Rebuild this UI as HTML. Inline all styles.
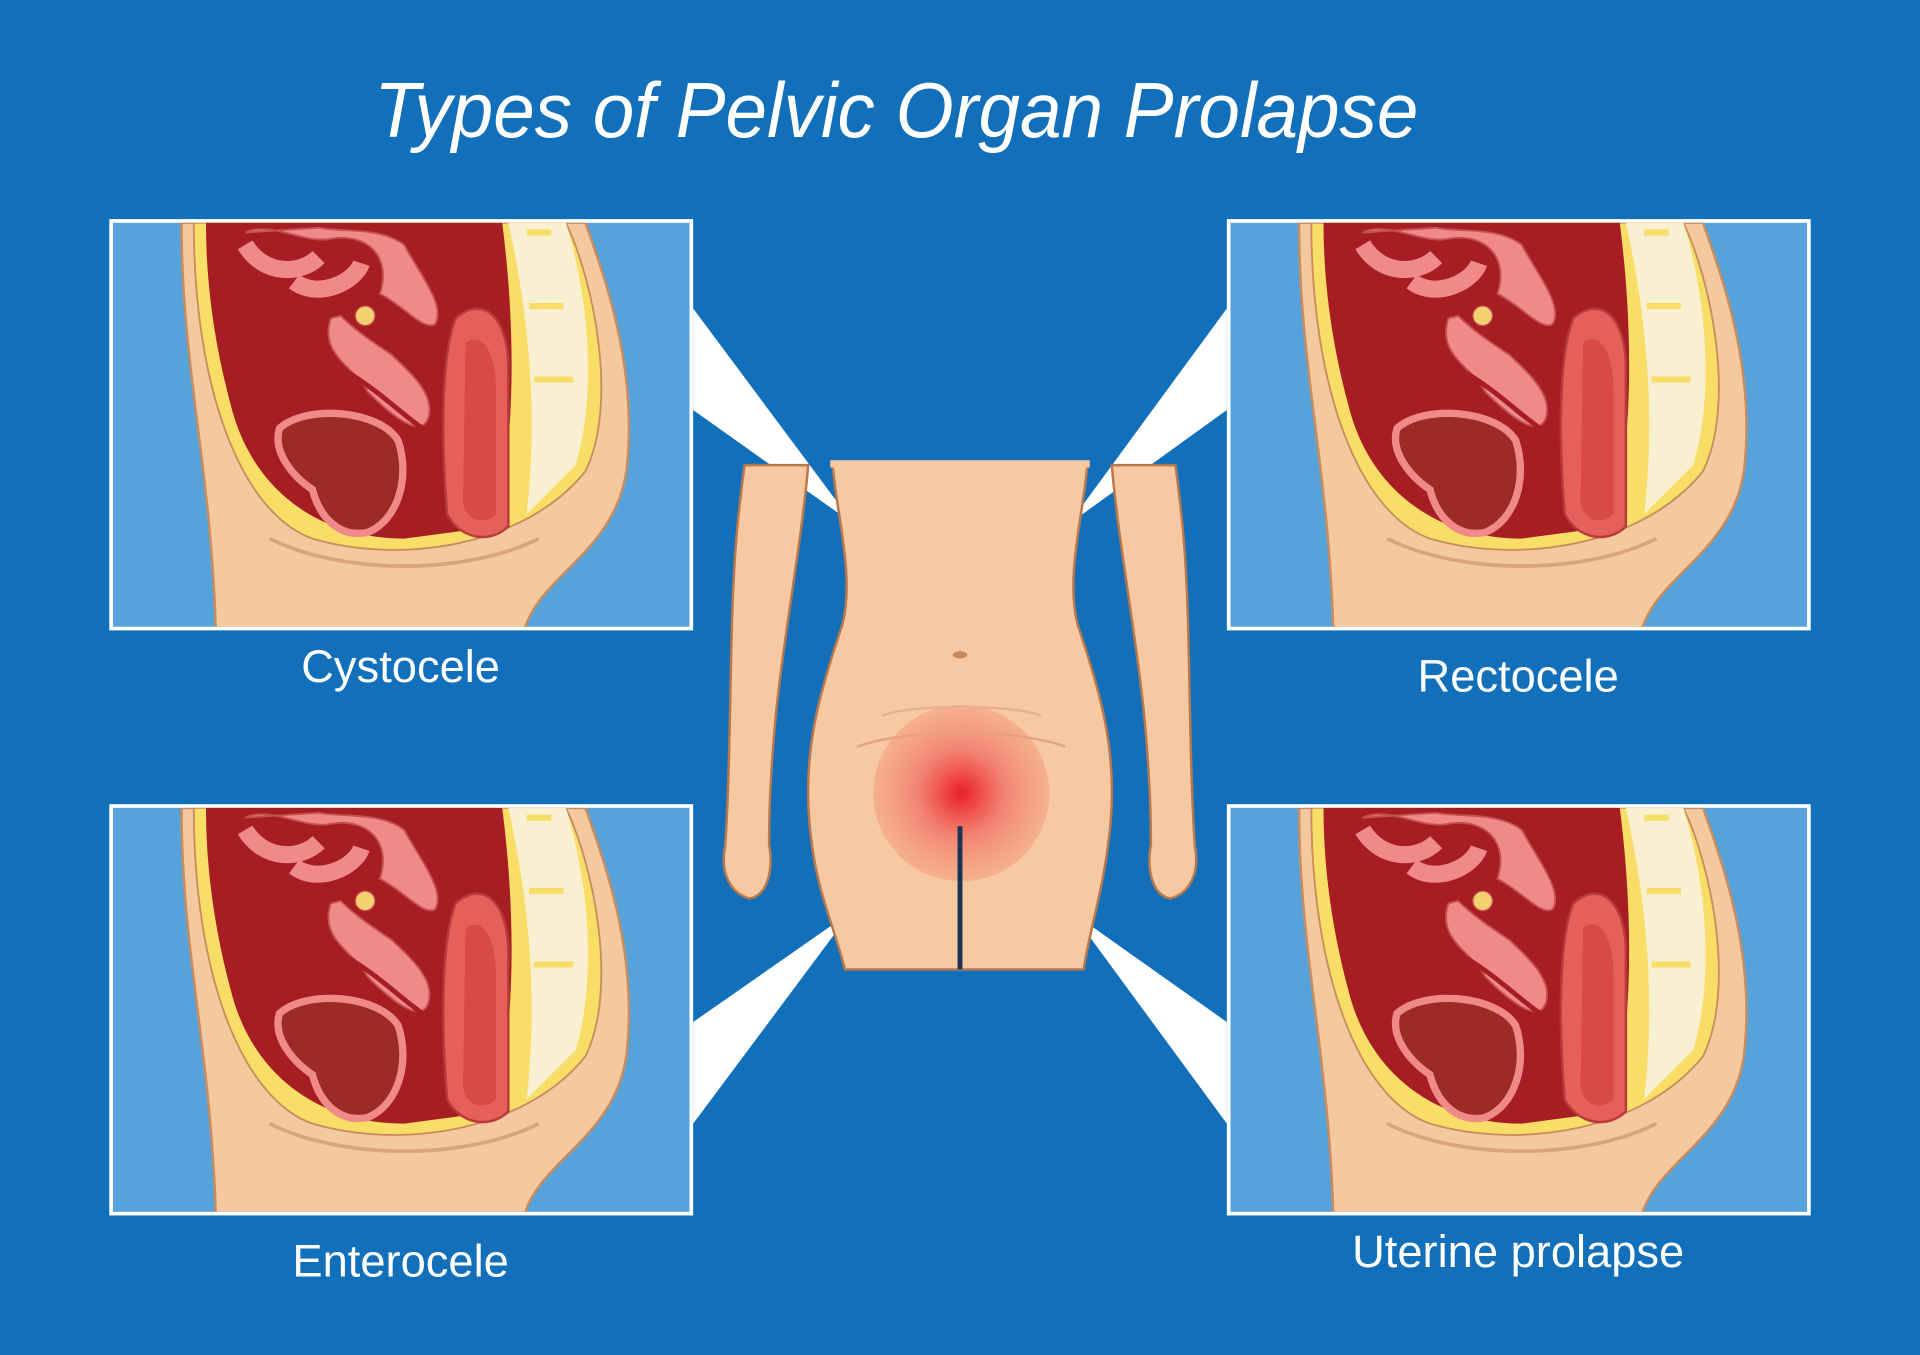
<!DOCTYPE html>
<html><head><meta charset="utf-8"><style>
html,body{margin:0;padding:0;background:#1170b9;}
svg{display:block}
</style></head><body>
<svg width="1920" height="1355" viewBox="0 0 1568 1107" xmlns="http://www.w3.org/2000/svg">
<defs>
<radialGradient id="glow" cx="0.5" cy="0.5" r="0.5">
<stop offset="0" stop-color="#e8202a"/>
<stop offset="0.2" stop-color="#ee4a45"/>
<stop offset="0.5" stop-color="#f27c6e" stop-opacity="0.9"/>
<stop offset="1" stop-color="#f5a080" stop-opacity="0.6"/>
</radialGradient>
<clipPath id="pc"><rect x="92" y="182" width="471" height="330"/></clipPath>
<g id="panel">
<rect x="89" y="179" width="477" height="336" fill="#ffffff"/>
<rect x="92" y="182" width="471" height="330" fill="#55a3da"/>
<g clip-path="url(#pc)">
<path d="M148,182 C148,300 172,380 176,515 L428,515 C440,470 505,450 512,380 C520,300 495,230 478,182 Z" fill="#f5c9a0" stroke="#c98c5e" stroke-width="2"/>
<path d="M158,182 C158,320 198,420 255,440 C330,462 430,445 478,385 C505,330 485,230 462,182 Z" fill="#f8dd66" stroke="#c98c5e" stroke-width="1.5"/>
<path d="M415,182 L462,182 C480,240 488,320 470,380 L430,420 C440,330 430,250 415,182 Z" fill="#f8f0d0"/>
<path d="M430,190 L450,190 M432,250 L460,250 M436,310 L468,310" stroke="#f8dd66" stroke-width="5"/>
<path d="M168,182 L410,182 C420,260 422,350 405,430 L330,440 C260,440 205,400 188,330 C172,270 168,220 168,182 Z" fill="#a61d23"/>
<path d="M372,260 C395,240 415,260 415,300 L415,430 C400,445 375,440 365,420 C360,360 360,290 372,260 Z" fill="#e5605a" stroke="#b83a3a" stroke-width="2"/>
<path d="M380,280 C395,270 405,290 405,320 L405,420 C395,430 380,425 378,410 Z" fill="#d74a45"/>
<path d="M228,350 C250,330 310,335 325,360 C335,390 325,425 300,435 C275,440 260,420 255,400 C240,390 222,370 228,350 Z" fill="#9c2a26" stroke="#f08a88" stroke-width="6"/>
<path d="M270,260 C260,290 290,300 300,320 C320,340 345,360 350,340 C355,320 330,300 320,290 C305,280 290,270 278,258 Z" fill="#f08a88" stroke="#c45050" stroke-width="1.5"/>
<path d="M285,305 C310,320 330,340 345,350" stroke="#a61d23" stroke-width="4" fill="none"/>
<path d="M200,190 C220,180 250,200 270,195 C300,190 320,210 310,240 C330,250 345,270 355,265 C365,250 340,220 330,200 C310,185 280,190 260,186 Z" fill="#f08a88" stroke="#c45050" stroke-width="1.5"/>
<path d="M200,200 C215,225 245,225 260,210 M240,230 C260,245 290,230 295,215" stroke="#f08a88" stroke-width="14" fill="none"/>
<circle cx="298" cy="258" r="8" fill="#f5d070" stroke="#c45050"/>
<path d="M220,440 C280,470 380,470 440,440" stroke="#d9a57a" stroke-width="3" fill="none"/>
</g>
</g>
</defs>
<rect width="1568" height="1107" fill="#1170b9"/>
<text x="732" y="112" fill="#ffffff" font-family="Liberation Sans, sans-serif" font-style="italic" font-size="64" text-anchor="middle" textLength="853" lengthAdjust="spacingAndGlyphs">Types of Pelvic Organ Prolapse</text>

<!-- beams -->
<polygon points="566,252 566,335 697,428" fill="#ffffff"/>
<polygon points="1002,252 1002,335 873,428" fill="#ffffff"/>
<polygon points="566,835 566,918 695,745" fill="#ffffff"/>
<polygon points="1002,835 1002,918 875,745" fill="#ffffff"/>

<!-- body -->
<g fill="#f6c9a3" stroke="#b9784c" stroke-width="2">
<path d="M608,380 L660,380 C655,440 640,520 634,580 C630,620 628,660 628,690 C632,712 626,732 612,734 C596,730 588,712 592,692 C596,640 596,560 598,500 C600,440 604,410 608,380 Z"/>
<path d="M960,380 L908,380 C913,440 928,520 934,580 C938,620 940,660 940,690 C936,712 942,732 956,734 C972,730 980,712 976,692 C972,640 972,560 970,500 C968,440 964,410 960,380 Z"/>
<path d="M680,380 L888,380 C885,420 870,470 880,510 C900,570 915,620 905,690 C900,730 890,760 885,792 L690,792 C682,760 668,730 663,690 C653,620 668,570 688,510 C698,470 683,420 680,380 Z"/>
</g>
<rect x="678" y="376" width="212" height="6" fill="#f6c9a3"/>
<circle cx="785" cy="648" r="72" fill="url(#glow)"/>
<path d="M700,610 C740,595 830,595 870,610" stroke="#e8a080" stroke-width="2" fill="none"/>
<path d="M720,585 C740,575 830,575 850,585" stroke="#e8b090" stroke-width="2" fill="none"/>
<path d="M784,675 L784,792" stroke="#1a3550" stroke-width="4"/>
<ellipse cx="784" cy="535" rx="6" ry="3" fill="#c98c5e"/>

<!-- panels -->
<use href="#panel"/>
<use href="#panel" x="913"/>
<use href="#panel" y="478"/>
<use href="#panel" x="913" y="478"/>

<g fill="#ffffff" font-family="Liberation Sans, sans-serif" font-size="37" text-anchor="middle">
<text x="327" y="557">Cystocele</text>
<text x="1240" y="565">Rectocele</text>
<text x="327" y="1043">Enterocele</text>
<text x="1240" y="1035">Uterine prolapse</text>
</g>
</svg>
</body></html>
